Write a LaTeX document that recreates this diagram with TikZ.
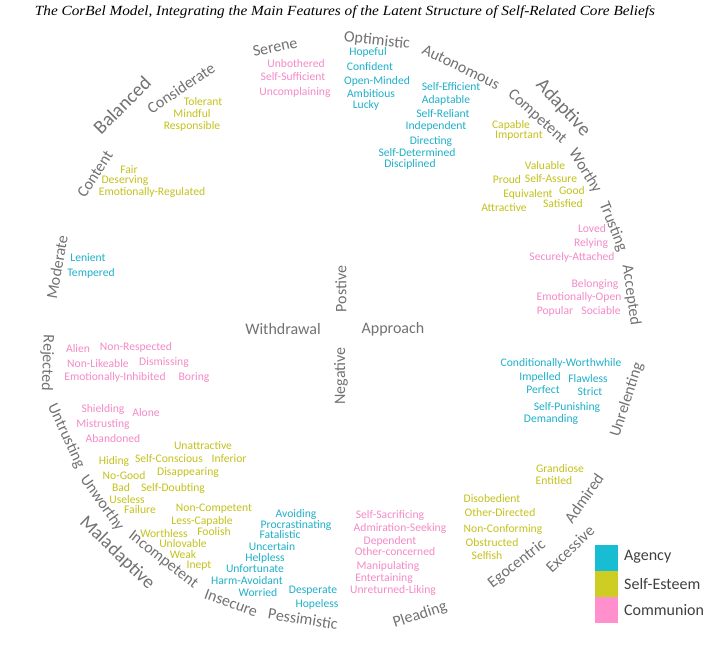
\documentclass[tikz,border=0pt]{standalone}
\usepackage{fontspec}
\setmainfont{Carlito}
\newfontfamily\titlefont{Liberation Serif}
\definecolor{agc}{HTML}{1FB0C9}
\definecolor{sec}{HTML}{C4C21C}
\definecolor{coc}{HTML}{F58AC8}
\definecolor{grc}{HTML}{727272}
\definecolor{agbox}{HTML}{19BDD3}
\definecolor{sebox}{HTML}{CDCD24}
\definecolor{cobox}{HTML}{FF8FCD}
\tikzset{
  w/.style={inner sep=0pt,font=\fontsize{11.6}{13}\selectfont},
  ag/.style={w,text=agc},
  se/.style={w,text=sec},
  co/.style={w,text=coc},
  dim/.style={inner sep=0pt,text=grc,font=\fontsize{16}{19}\selectfont},
  big/.style={inner sep=0pt,text=grc,font=\fontsize{19.5}{23}\selectfont},
  legbox/.style={draw=none,minimum width=23pt,minimum height=26pt,inner sep=0pt},
  leglab/.style={inner sep=0pt,anchor=west,text=black!75,font=\fontsize{16}{19}\selectfont}
}
\begin{document}
\begin{tikzpicture}[x=1pt,y=-1pt]
\useasboundingbox[fill=white] (0,0) rectangle (724,649);
% title
\node[inner sep=0pt,font=\titlefont\itshape\fontsize{14}{16}\selectfont] (title) at (345,12) {\scalebox{1.09}[1]{The CorBel Model, Integrating the Main Features of the Latent Structure of Self-Related Core Beliefs}};
% gray category words
\node[dim,rotate=12] (serene) at (275,47) {Serene};
\node[dim,rotate=34] (considerate) at (181,88) {Considerate};
\node[big,rotate=45] (balanced) at (122,105) {Balanced};
\node[dim,rotate=57] (content) at (95,174) {Content};
\node[dim,rotate=80] (moderate) at (57,267) {Moderate};
\node[dim,rotate=-6] (optimistic) at (377,41) {Optimistic};
\node[dim,rotate=-26] (autonomous) at (461,67) {Autonomous};
\node[big,rotate=-47] (adaptive) at (563,108) {Adaptive};
\node[dim,rotate=-42] (competent) at (537,117) {Competent};
\node[dim,rotate=-58] (worthy) at (585,171) {Worthy};
\node[dim,rotate=-68] (trusting) at (613,227) {Trusting};
\node[dim,rotate=-82] (accepted) at (631,295) {Accepted};
\node[dim] (withdrawal) at (283,329) {Withdrawal};
\node[dim] (approach) at (393,329) {Approach};
\node[dim,rotate=90] (postive) at (341,289) {Postive};
\node[dim,rotate=90] (negative) at (341,376) {Negative};
\node[dim,rotate=72] (unrelenting) at (627,400) {Unrelenting};
\node[dim,rotate=-92] (rejected) at (47,363) {Rejected};
\node[dim,rotate=-65] (untrusting) at (66,436) {Untrusting};
\node[dim,rotate=-55] (unworthy) at (102,503) {Unworthy};
\node[big,rotate=-44,font=\fontsize{19}{23}\selectfont] (maladaptive) at (117,553) {Maladaptive};
\node[dim,rotate=-38] (incompetent) at (163,560) {Incompetent};
\node[dim,rotate=-20] (insecure) at (231,603) {Insecure};
\node[dim,rotate=-9] (pessimistic) at (303,619) {Pessimistic};
\node[dim,rotate=18] (pleading) at (420,615) {Pleading};
\node[dim,rotate=38] (egocentric) at (517,564) {Egocentric};
\node[dim,rotate=44] (excessive) at (570,549) {Excessive};
\node[dim,rotate=55] (admired) at (584,498) {Admired};
% top-left
\node[co] (unbothered) at (296,64) {Unbothered};
\node[co] (selfsufficient) at (293,77) {Self-Sufficient};
\node[co] (uncomplaining) at (295,92) {Uncomplaining};
\node[se] (tolerant) at (203,102) {Tolerant};
\node[se] (mindful) at (192,114) {Mindful};
\node[se] (responsible) at (192,126) {Responsible};
\node[se] (fair) at (129,170) {Fair};
\node[se] (deserving) at (125,181) {Deserving};
\node[se] (emoreg) at (152,192) {Emotionally-Regulated};
\node[ag] (lenient) at (88,258) {Lenient};
\node[ag] (tempered) at (91,273) {Tempered};
% top-right
\node[ag] (hopeful) at (368,52) {Hopeful};
\node[ag] (confident) at (370,67) {Confident};
\node[ag] (openminded) at (377,81) {Open-Minded};
\node[ag] (ambitious) at (371,94) {Ambitious};
\node[ag] (lucky) at (366,105) {Lucky};
\node[ag] (selfefficient) at (451,87) {Self-Efficient};
\node[ag] (adaptable) at (446,100) {Adaptable};
\node[ag] (selfreliant) at (443,114) {Self-Reliant};
\node[ag] (independent) at (436,126) {Independent};
\node[ag] (directing) at (431,141) {Directing};
\node[ag] (selfdetermined) at (417,153) {Self-Determined};
\node[ag] (disciplined) at (410,164) {Disciplined};
\node[se] (capable) at (511,125) {Capable};
\node[se] (important) at (519,136) {Important};
\node[se] (valuable) at (545,166) {Valuable};
\node[se] (proud) at (507,180) {Proud};
\node[se] (selfassure) at (551,179) {Self-Assure};
\node[se] (equivalent) at (528,194) {Equivalent};
\node[se] (good) at (572,191) {Good};
\node[se] (attractive) at (504,208) {Attractive};
\node[se] (satisfied) at (563,204) {Satisfied};
\node[co] (loved) at (592,229) {Loved};
\node[co] (relying) at (591,243) {Relying};
\node[co] (securely) at (572,257) {Securely-Attached};
\node[co] (belonging) at (595,284) {Belonging};
\node[co] (emoopen) at (579,297) {Emotionally-Open};
\node[co] (popular) at (555,311) {Popular};
\node[co] (sociable) at (601,311) {Sociable};
% right middle
\node[ag] (condworth) at (561,363) {Conditionally-Worthwhile};
\node[ag] (impelled) at (540,377) {Impelled};
\node[ag] (flawless) at (588,379) {Flawless};
\node[ag] (perfect) at (543,390) {Perfect};
\node[ag] (strict) at (590,392) {Strict};
\node[ag] (selfpunishing) at (567,407) {Self-Punishing};
\node[ag] (demanding) at (551,419) {Demanding};
% left middle
\node[co] (alien) at (78,349) {Alien};
\node[co] (nonrespected) at (136,347) {Non-Respected};
\node[co] (nonlikeable) at (98,364) {Non-Likeable};
\node[co] (dismissing) at (164,362) {Dismissing};
\node[co] (emoinhib) at (115,377) {Emotionally-Inhibited};
\node[co] (boring) at (194,377) {Boring};
\node[co] (shielding) at (103,409) {Shielding};
\node[co] (alone) at (146,413) {Alone};
\node[co] (mistrusting) at (103,424) {Mistrusting};
\node[co] (abandoned) at (113,439) {Abandoned};
% bottom-left
\node[se] (unattractive) at (203,446) {Unattractive};
\node[se] (hiding) at (114,461) {Hiding};
\node[se] (selfconscious) at (169,459) {Self-Conscious};
\node[se] (inferior) at (229,459) {Inferior};
\node[se] (nogood) at (124,476) {No-Good};
\node[se] (disappearing) at (188,472) {Disappearing};
\node[se] (bad) at (121,488) {Bad};
\node[se] (selfdoubting) at (173,488) {Self-Doubting};
\node[se] (useless) at (127,500) {Useless};
\node[se] (failure) at (140,510) {Failure};
\node[se] (noncompetent) at (214,509) {Non-Competent};
\node[se] (lesscapable) at (202,521) {Less-Capable};
\node[se] (worthless) at (164,534) {Worthless};
\node[se] (foolish) at (214,532) {Foolish};
\node[se] (unlovable) at (183,544) {Unlovable};
\node[se] (weak) at (183,555) {Weak};
\node[se] (inept) at (199,566) {Inept};
% bottom agency
\node[ag] (avoiding) at (296,514) {Avoiding};
\node[ag] (procrast) at (296,525) {Procrastinating};
\node[ag] (fatalistic) at (280,535) {Fatalistic};
\node[ag] (uncertain) at (272,547) {Uncertain};
\node[ag] (helpless) at (265,558) {Helpless};
\node[ag] (unfortunate) at (255,569) {Unfortunate};
\node[ag] (harmavoidant) at (247,581) {Harm-Avoidant};
\node[ag] (worried) at (258,593) {Worried};
\node[ag] (desperate) at (313,591) {Desperate};
\node[ag] (hopeless) at (317,604) {Hopeless};
% bottom communion
\node[co] (selfsacrificing) at (390,515) {Self-Sacrificing};
\node[co] (admseeking) at (400,528) {Admiration-Seeking};
\node[co] (dependent) at (390,541) {Dependent};
\node[co] (otherconcerned) at (395,552) {Other-concerned};
\node[co] (manipulating) at (388,566) {Manipulating};
\node[co] (entertaining) at (384,578) {Entertaining};
\node[co] (unreturned) at (393,590) {Unreturned-Liking};
% bottom-right self-esteem
\node[se] (grandiose) at (560,469) {Grandiose};
\node[se] (entitled) at (554,481) {Entitled};
\node[se] (disobedient) at (492,499) {Disobedient};
\node[se] (otherdirected) at (500,513) {Other-Directed};
\node[se] (nonconforming) at (503,529) {Non-Conforming};
\node[se] (obstructed) at (492,543) {Obstructed};
\node[se] (selfish) at (487,556) {Selfish};
% legend
\node[legbox,fill=agbox] (lagency) at (606.5,558) {};
\node[legbox,fill=sebox] (lself) at (606.5,584) {};
\node[legbox,fill=cobox] (lcomm) at (606.5,610) {};
\node[leglab] (tagency) at (624,557) {Agency};
\node[leglab] (tself) at (624,584) {Self-Esteem};
\node[leglab] (tcomm) at (624,610) {Communion};
\end{tikzpicture}
\end{document}
